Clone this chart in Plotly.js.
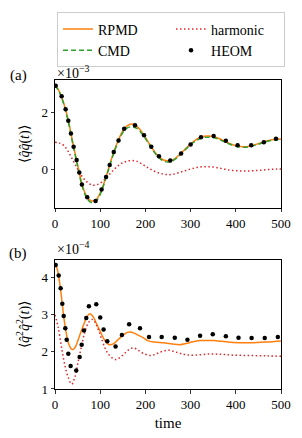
<!DOCTYPE html>
<html>
<head>
<meta charset="utf-8">
<script src="https://cdn.plot.ly/plotly-3.0.1.min.js"></script>
<style>html,body{margin:0;padding:0;background:#fff;}</style>
</head>
<body>
<div id="chart" style="width:302px;height:438px;"></div>
<script>
// ---------- Panel (a): <q q(t)>, values in units of 1e-3 ----------
const tA = [0,10,20,30,40,50,60,70,80,90,100,110,120,130,140,150,160,170,180,190,200,210,220,230,240,250,260,270,280,290,300,310,320,330,340,350,360,370,380,390,400,410,420,430,440,450,460,470,480,490,500];
const rpmdA = [2.98,2.74,2.30,1.68,0.88,0.15,-0.55,-0.97,-1.13,-1.10,-0.85,-0.42,0.10,0.60,1.02,1.35,1.54,1.60,1.53,1.36,1.12,0.86,0.62,0.43,0.32,0.29,0.32,0.43,0.58,0.74,0.89,1.02,1.11,1.16,1.17,1.15,1.10,1.03,0.95,0.88,0.83,0.80,0.79,0.81,0.85,0.90,0.95,1.00,1.04,1.06,1.06];
const cmdA = [2.98,2.72,2.27,1.64,0.84,0.10,-0.60,-1.02,-1.19,-1.16,-0.90,-0.46,0.06,0.56,0.97,1.29,1.46,1.50,1.45,1.30,1.08,0.83,0.59,0.40,0.28,0.25,0.29,0.40,0.55,0.71,0.86,0.98,1.07,1.12,1.13,1.12,1.07,1.00,0.93,0.86,0.81,0.78,0.77,0.79,0.83,0.88,0.93,0.98,1.02,1.04,1.05];
const harmA = [0.95,0.92,0.83,0.60,0.30,0.00,-0.27,-0.45,-0.56,-0.57,-0.50,-0.37,-0.20,-0.03,0.12,0.22,0.28,0.30,0.28,0.20,0.10,0.00,-0.08,-0.14,-0.18,-0.20,-0.19,-0.15,-0.10,-0.05,0.00,0.04,0.07,0.08,0.08,0.07,0.04,0.01,-0.02,-0.05,-0.06,-0.07,-0.07,-0.07,-0.06,-0.05,-0.04,-0.02,-0.01,0.00,0.00];
const tHeomA = [1.5,14.7,23.5,29.4,35.3,41.2,47.8,53.7,59.5,71.3,89.7,103,113,121,130,140.5,153,177,197,213,230,255,279,300,323,351,378,404,434,462,489];
const heomA = [2.96,2.58,2.12,1.71,1.26,0.79,0.32,-0.12,-0.55,-1.00,-1.14,-0.73,-0.28,0.14,0.60,1.01,1.43,1.55,1.20,0.79,0.45,0.30,0.55,0.87,1.13,1.17,1.00,0.84,0.84,0.95,1.07];

// ---------- Panel (b): <q^2 q^2(t)>, values in units of 1e-4 ----------
const tRpmdB = [0,5,10,15,20,25,30,35,40,45,50,55,60,65,70,77,85,90,100,110,120,130,140,150,160,166,175,185,195,205,220,240,260,276,290,305,320,350,370,394,431,468,500];
const rpmdB = [4.35,4.22,3.88,3.40,2.88,2.50,2.22,2.09,2.06,2.13,2.28,2.45,2.62,2.78,2.93,3.02,2.93,2.80,2.55,2.31,2.19,2.22,2.33,2.44,2.52,2.53,2.50,2.44,2.38,2.30,2.26,2.24,2.21,2.19,2.22,2.27,2.30,2.30,2.28,2.25,2.24,2.26,2.29];
const tHarmB = [0,7,15,22,29,37,44,51,59,66,75,83,92,103,113,124,135,147,157,166,175,184,195,210,222,232,244,254,265,276,290,310,342,370,394,430,470,500];
const harmB = [2.99,2.66,2.08,1.63,1.32,1.13,1.32,1.72,2.17,2.53,2.80,2.87,2.71,2.35,2.04,1.86,1.79,1.88,1.99,2.08,2.10,2.04,1.96,1.90,1.93,1.99,2.03,2.04,2.00,1.96,1.92,1.91,1.94,1.93,1.91,1.90,1.89,1.88];
const tHeomB = [1.5,8.1,12.5,16.2,19.2,22.8,25.8,29.4,34.6,47,54.5,59,64,69.2,75,91.3,100,107.5,115.6,134,148,164,188,208,236,265,293,321,349,378,406,435,464,493];
const heomB = [4.33,4.05,3.71,3.29,2.96,2.63,2.32,1.95,1.62,1.50,1.86,2.19,2.57,2.91,3.22,3.28,2.92,2.60,2.28,2.14,2.45,2.74,2.63,2.40,2.40,2.38,2.32,2.43,2.47,2.42,2.38,2.37,2.37,2.40];

const xTicks = [0,100,200,300,400,500];
const names = {rpmd:'RPMD', cmd:'CMD', harm:'harmonic', heom:'HEOM'};

const FONT = 'Liberation Serif';
const cOrange = '#ff7f0e', cGreen = '#2ca02c', cRed = '#e0262b';

const traces = [
  {x:tA, y:rpmdA, name:names.rpmd, mode:'lines', line:{color:cOrange, width:1.5, shape:'spline'}, xaxis:'x', yaxis:'y'},
  {x:tA, y:harmA, name:names.harm, mode:'lines', line:{color:cRed, width:1.5, dash:'1.5px,2.5px', shape:'spline'}, xaxis:'x', yaxis:'y'},
  {x:tA, y:cmdA, name:names.cmd, mode:'lines', line:{color:cGreen, width:1.5, dash:'5px,3px', shape:'spline'}, xaxis:'x', yaxis:'y'},
  {x:tHeomA, y:heomA, name:names.heom, mode:'markers', marker:{color:'#000', size:4.5}, xaxis:'x', yaxis:'y'},
  {x:tRpmdB, y:rpmdB, name:names.rpmd, mode:'lines', line:{color:cOrange, width:1.5, shape:'spline'}, xaxis:'x2', yaxis:'y2', showlegend:false},
  {x:tHarmB, y:harmB, name:names.harm, mode:'lines', line:{color:cRed, width:1.5, dash:'1.5px,2.5px', shape:'spline'}, xaxis:'x2', yaxis:'y2', showlegend:false},
  {x:tHeomB, y:heomB, name:names.heom, mode:'markers', marker:{color:'#000', size:4.5}, xaxis:'x2', yaxis:'y2', showlegend:false}
];

const axBase = {
  showline:true, linecolor:'#000', linewidth:1, mirror:true,
  ticks:'outside', ticklen:3.5, tickwidth:0.8, tickcolor:'#000',
  showgrid:false, zeroline:false, automargin:false,
  tickfont:{family:FONT, size:13, color:'#000'}
};

const layout = {
  width:302, height:438,
  margin:{l:55, r:21, t:78, b:49},
  paper_bgcolor:'#fff', plot_bgcolor:'#fff',
  font:{family:FONT, size:13, color:'#000'},
  showlegend:true,
  legend:{
    orientation:'h', x:0.009, y:1.2186, xanchor:'left', yanchor:'top',
    bordercolor:'#cccccc', borderwidth:1, bgcolor:'#fff',
    font:{family:FONT, size:14, color:'#000'},
    entrywidth:68, traceorder:'normal'
  },
  xaxis: Object.assign({}, axBase, {anchor:'y', range:[0,500], tickvals:xTicks}),
  yaxis: Object.assign({}, axBase, {domain:[0.5862,1], range:[-1.38,3.16], tickvals:[0,2],
    title:{text:'⟨<i>q̂q̂</i>(<i>t</i>)⟩', standoff:8, font:{family:FONT, size:14}}}),
  xaxis2: Object.assign({}, axBase, {anchor:'y2', range:[0,500], tickvals:xTicks,
    title:{text:'time', standoff:6, font:{family:FONT, size:15}}}),
  yaxis2: Object.assign({}, axBase, {domain:[0,0.418], range:[1,4.47], tickvals:[1,2,3,4],
    title:{text:'⟨<i>q̂</i><sup>2</sup><i>q̂</i><sup>2</sup>(<i>t</i>)⟩', standoff:8, font:{family:FONT, size:14}}}),
  annotations:[
    {text:'(a)', xref:'paper', yref:'paper', x:-0.1637, y:1.016, xanchor:'center', yanchor:'middle', showarrow:false, font:{family:FONT, size:15}},
    {text:'×10<sup>−3</sup>', xref:'paper', yref:'paper', x:0.0, y:1.026, xanchor:'left', yanchor:'middle', showarrow:false, font:{family:FONT, size:14}},
    {text:'(b)', xref:'paper', yref:'paper', x:-0.1637, y:0.438, xanchor:'center', yanchor:'middle', showarrow:false, font:{family:FONT, size:15}},
    {text:'×10<sup>−4</sup>', xref:'paper', yref:'paper', x:0.0, y:0.4576, xanchor:'left', yanchor:'middle', showarrow:false, font:{family:FONT, size:14}}
  ]
};

Plotly.newPlot('chart', traces, layout, {displayModeBar:false, staticPlot:true});
</script>
</body>
</html>
